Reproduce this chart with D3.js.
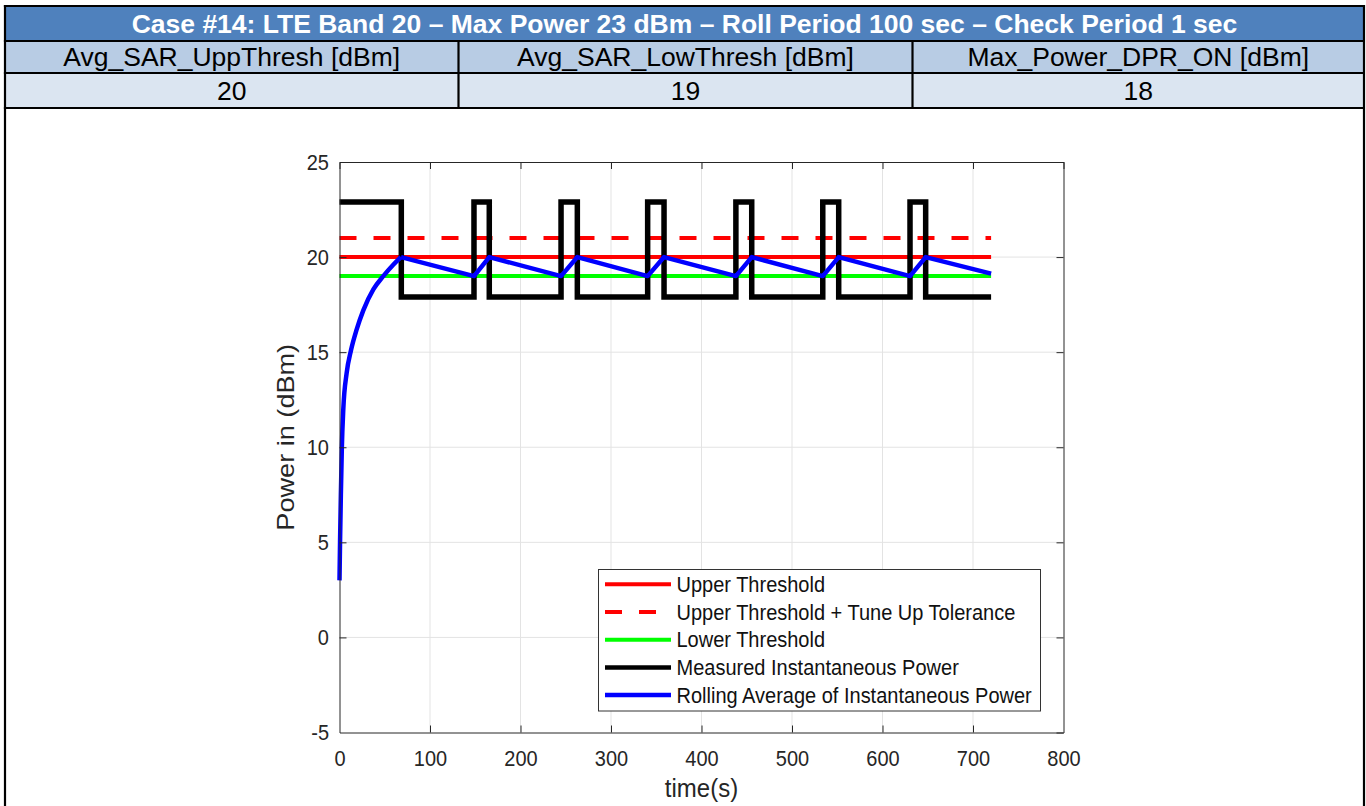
<!DOCTYPE html>
<html>
<head>
<meta charset="utf-8">
<script src="https://cdn.jsdelivr.net/npm/d3@7"></script>
<style>
  html, body { margin: 0; padding: 0; background: #fff; }
  svg { display: block; }
  text { font-family: "Liberation Sans", Arial, Helvetica, sans-serif; }
</style>
</head>
<body>
<svg id="chart" width="1366" height="806"></svg>
<script>
// ---------- data ----------
const titleText = "Case #14: LTE Band 20 \u2013 Max Power 23 dBm \u2013 Roll Period 100 sec \u2013 Check Period 1 sec";
const headerLabels = ["Avg_SAR_UppThresh [dBm]", "Avg_SAR_LowThresh [dBm]", "Max_Power_DPR_ON [dBm]"];
const headerValues = ["20", "19", "18"];

const timeTicks = [0, 100, 200, 300, 400, 500, 600, 700, 800];
const powerTicks = [-5, 0, 5, 10, 15, 20, 25];

const thresholdSpan = [0, 720];
const upperThreshold = 20;
const upperTolerance = 21;
const lowerThreshold = 19;

// measured instantaneous power: high pulses (start, end) and levels
const pulseStart = [0, 148.6, 244.8, 340.5, 438, 534, 630.4];
const pulseEnd   = [68.3, 165.5, 262.8, 358.6, 455.5, 551.6, 647.7];
const highLevel = 22.9;
const lowLevel = 17.9;
const measuredEnd = 720;

// rolling average: initial ramp
const rampTime  = [0, 0.6, 1.5, 2.6, 4.2, 7.9, 12.7, 19, 26.3, 37.4, 48.4, 59.4, 68.0];
const rampPower = [3.0, 5.0, 7.5, 10.0, 12.0, 13.9, 15.1, 16.2, 17.2, 18.3, 19.0, 19.6, 20.0];
// rolling average: sawtooth after ramp
const sawTime  = [68.0, 148.6, 165.5, 244.8, 262.8, 340.5, 358.6, 438, 455.5, 534, 551.6, 630.4, 647.7, 720];
const sawPower = [20.0, 19.0, 20.0, 19.0, 20.0, 19.0, 20.0, 19.0, 20.0, 19.0, 20.0, 19.0, 20.0, 19.13];

const legendItems = [
  { label: "Upper Threshold", color: "#ff0000", dash: null, width: 4 },
  { label: "Upper Threshold + Tune Up Tolerance", color: "#ff0000", dash: "17,17", width: 4 },
  { label: "Lower Threshold", color: "#00ff00", dash: null, width: 4 },
  { label: "Measured Instantaneous Power", color: "#000000", dash: null, width: 4.5 },
  { label: "Rolling Average of Instantaneous Power", color: "#0000ff", dash: null, width: 4.5 }
];

// ---------- table ----------
const svg = d3.select("#chart");
const tLeft = 5, tRight = 1364;
const colEdges = [5, 458.5, 912.5, 1364];

svg.append("rect").attr("x", tLeft).attr("y", 6).attr("width", tRight - tLeft).attr("height", 35).attr("fill", "#4F81BD");
svg.append("rect").attr("x", tLeft).attr("y", 41).attr("width", tRight - tLeft).attr("height", 32).attr("fill", "#B8CCE4");
svg.append("rect").attr("x", tLeft).attr("y", 73).attr("width", tRight - tLeft).attr("height", 35).attr("fill", "#DBE5F1");

const border = svg.append("g").attr("stroke", "#000").attr("stroke-width", 2.2).attr("fill", "none");
border.append("line").attr("x1", 3.9).attr("x2", 1364.1).attr("y1", 6).attr("y2", 6);
border.append("line").attr("x1", 3.9).attr("x2", 1364.1).attr("y1", 41).attr("y2", 41);
border.append("line").attr("x1", 3.9).attr("x2", 1364.1).attr("y1", 73).attr("y2", 73);
border.append("line").attr("x1", 3.9).attr("x2", 1364.1).attr("y1", 108).attr("y2", 108);
border.append("line").attr("x1", 5).attr("x2", 5).attr("y1", 5).attr("y2", 806);
border.append("line").attr("x1", 1364).attr("x2", 1364).attr("y1", 5).attr("y2", 806);
[colEdges[1], colEdges[2]].forEach(cx => {
  border.append("line").attr("x1", cx).attr("x2", cx).attr("y1", 41).attr("y2", 108);
});

svg.append("text").attr("x", 684.5).attr("y", 33).attr("text-anchor", "middle")
  .attr("font-size", 26.5).attr("font-weight", "bold").attr("fill", "#fff").text(titleText);

headerLabels.forEach((lab, i) => {
  const cx = (colEdges[i] + colEdges[i + 1]) / 2;
  svg.append("text").attr("x", cx).attr("y", 66).attr("text-anchor", "middle")
    .attr("font-size", 26.5).attr("fill", "#000").text(lab);
  svg.append("text").attr("x", cx).attr("y", 100).attr("text-anchor", "middle")
    .attr("font-size", 26.5).attr("fill", "#000").text(headerValues[i]);
});

// ---------- plot ----------
const x = d3.scaleLinear().domain([0, 800]).range([339.5, 1063.5]);
const y = d3.scaleLinear().domain([-5, 25]).range([732.5, 162]);
const axisColor = "#262626";
const vStretch = 1.1;

const grid = svg.append("g").attr("stroke", "#e3e3e3").attr("stroke-width", 1);
timeTicks.slice(1, -1).forEach(t => {
  grid.append("line").attr("x1", x(t)).attr("x2", x(t)).attr("y1", y(25)).attr("y2", y(-5));
});
powerTicks.slice(1, -1).forEach(p => {
  grid.append("line").attr("x1", x(0)).attr("x2", x(800)).attr("y1", y(p)).attr("y2", y(p));
});

const lineGen = d3.line().x(d => x(d[0])).y(d => y(d[1]));

// thresholds
svg.append("path").datum(thresholdSpan.map(t => [t, upperThreshold]))
  .attr("d", lineGen).attr("fill", "none").attr("stroke", "#ff0000").attr("stroke-width", 4);
svg.append("path").datum(thresholdSpan.map(t => [t, upperTolerance]))
  .attr("d", lineGen).attr("fill", "none").attr("stroke", "#ff0000").attr("stroke-width", 4)
  .attr("stroke-dasharray", "17,17");
svg.append("path").datum(thresholdSpan.map(t => [t, lowerThreshold]))
  .attr("d", lineGen).attr("fill", "none").attr("stroke", "#00ff00").attr("stroke-width", 4);

// measured
const measured = [];
pulseStart.forEach((s, i) => {
  if (i > 0) { measured.push([s, lowLevel]); }
  measured.push([s, highLevel]);
  measured.push([pulseEnd[i], highLevel]);
  measured.push([pulseEnd[i], lowLevel]);
});
measured.push([measuredEnd, lowLevel]);
svg.append("path").datum(measured).attr("d", lineGen).attr("fill", "none")
  .attr("stroke", "#000").attr("stroke-width", 5.5).attr("stroke-linejoin", "miter");

// rolling average
const rampLine = d3.line().x(d => x(d[0])).y(d => y(d[1])).curve(d3.curveMonotoneX);
svg.append("path").datum(rampTime.map((t, i) => [t, rampPower[i]]))
  .attr("d", rampLine).attr("fill", "none").attr("stroke", "#0000ff").attr("stroke-width", 4.5)
  .attr("stroke-linejoin", "round");
svg.append("path").datum(sawTime.map((t, i) => [t, sawPower[i]]))
  .attr("d", lineGen).attr("fill", "none").attr("stroke", "#0000ff").attr("stroke-width", 4.5)
  .attr("stroke-linejoin", "round");

// axes
const fmt = d => String(d);
const gx = svg.append("g").attr("transform", `translate(0,${y(-5)})`)
  .call(d3.axisBottom(x).tickValues(timeTicks).tickFormat(fmt).tickSizeInner(-7).tickSizeOuter(0).tickPadding(16));
const gxt = svg.append("g").attr("transform", `translate(0,${y(25)})`)
  .call(d3.axisTop(x).tickValues(timeTicks).tickFormat("").tickSizeInner(-7).tickSizeOuter(0));
const gy = svg.append("g").attr("transform", `translate(${x(0)},0)`)
  .call(d3.axisLeft(y).tickValues(powerTicks).tickFormat(fmt).tickSizeInner(-7).tickSizeOuter(0).tickPadding(10.5));
const gyr = svg.append("g").attr("transform", `translate(${x(800)},0)`)
  .call(d3.axisRight(y).tickValues(powerTicks).tickFormat("").tickSizeInner(-7).tickSizeOuter(0));
[gx, gxt, gy, gyr].forEach(g => {
  g.selectAll(".domain").attr("stroke", axisColor).attr("stroke-width", 1);
  g.selectAll(".tick line").attr("stroke", axisColor).attr("stroke-width", 1);
  g.selectAll("text").attr("fill", axisColor).attr("font-size", 20)
    .attr("font-family", "'Liberation Sans', Arial, Helvetica, sans-serif")
    .attr("transform", `scale(1,${vStretch})`);
});
gx.selectAll(".tick").filter(d => d === 0 || d === 800).select("line").remove();
gy.selectAll(".tick").filter(d => d === -5 || d === 25).select("line").remove();

// axis titles
svg.append("text").attr("transform", `translate(701.5,797) scale(1,${vStretch})`)
  .attr("text-anchor", "middle").attr("font-size", 24).attr("fill", axisColor).text("time(s)");
svg.append("text").attr("transform", `translate(294,${(y(25) + y(-5)) / 2 - 10}) rotate(-90) scale(1.13,1)`)
  .attr("text-anchor", "middle").attr("font-size", 24).attr("fill", axisColor).text("Power in (dBm)");

// legend
const lg = svg.append("g");
lg.append("rect").attr("x", 598.5).attr("y", 569.5).attr("width", 442).attr("height", 141.5)
  .attr("fill", "#fff").attr("stroke", "#333").attr("stroke-width", 1);
legendItems.forEach((it, i) => {
  const cy = 584.3 + i * 27.7;
  lg.append("line").attr("x1", 605).attr("x2", 671).attr("y1", cy).attr("y2", cy)
    .attr("stroke", it.color).attr("stroke-width", it.width)
    .attr("stroke-dasharray", it.dash);
  lg.append("text").attr("transform", `translate(676.5,${cy + 7.5}) scale(1,${vStretch})`)
    .attr("font-size", 20).attr("fill", "#111").text(it.label);
});
</script>
</body>
</html>
